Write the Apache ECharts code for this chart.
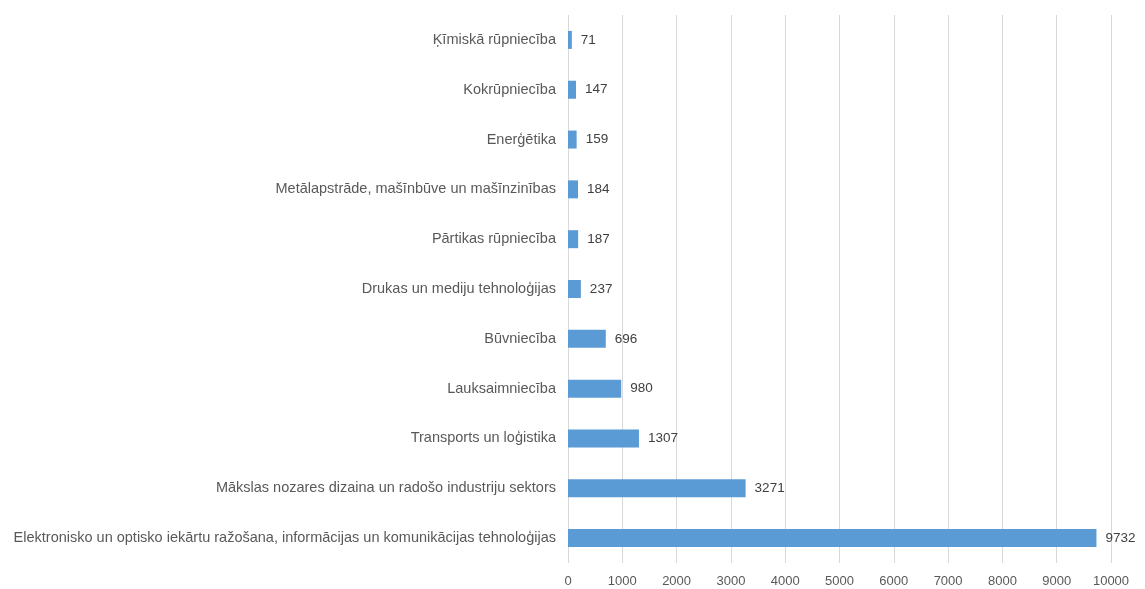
<!DOCTYPE html>
<html>
<head>
<meta charset="utf-8">
<script src="https://cdn.jsdelivr.net/npm/echarts@6/dist/echarts.min.js"></script>
<style>
  html, body { margin: 0; padding: 0; background: #fff; }
  #chart { width: 1145px; height: 589px; }
</style>
</head>
<body>
<div id="chart"></div>
<script>
// nozares (no apakšas uz augšu, kā ass rāda)
const categories = [
  'Elektronisko un optisko iekārtu ražošana, informācijas un komunikācijas tehnoloģijas',
  'Mākslas nozares dizaina un radošo industriju sektors',
  'Transports un loģistika',
  'Lauksaimniecība',
  'Būvniecība',
  'Drukas un mediju tehnoloģijas',
  'Pārtikas rūpniecība',
  'Metālapstrāde, mašīnbūve un mašīnzinības',
  'Enerģētika',
  'Kokrūpniecība',
  'Ķīmiskā rūpniecība'
];
const values = [9732, 3271, 1307, 980, 696, 237, 187, 184, 159, 147, 71];

const textColor = '#595959';
const font = 'Liberation Sans, Arial, sans-serif';

const chart = echarts.init(document.getElementById('chart'));
chart.setOption({
  animation: false,
  grid: { left: 568, right: 34, top: 15, bottom: 26, containLabel: false },
  xAxis: {
    type: 'value',
    min: 0,
    max: 10000,
    interval: 1000,
    axisLine: { show: false },
    axisTick: { show: false },
    axisLabel: {
      color: textColor, fontSize: 13, fontFamily: font, margin: 12,
      formatter: v => String(v)   // bez tūkstošu atdalītāja
    },
    splitLine: { show: true, lineStyle: { color: '#d9d9d9', width: 1 } }
  },
  yAxis: {
    type: 'category',
    data: categories,
    axisLine: { show: false },
    axisTick: { show: false },
    axisLabel: { color: textColor, fontSize: 14.5, fontFamily: font, margin: 12 }
  },
  series: [{
    type: 'bar',
    data: values,
    barWidth: 18,
    itemStyle: { color: '#5b9bd5' },
    label: {
      show: true,
      position: 'right',
      distance: 9,
      color: '#404040',
      fontSize: 13.5,
      fontFamily: font
    }
  }]
});
</script>
</body>
</html>
